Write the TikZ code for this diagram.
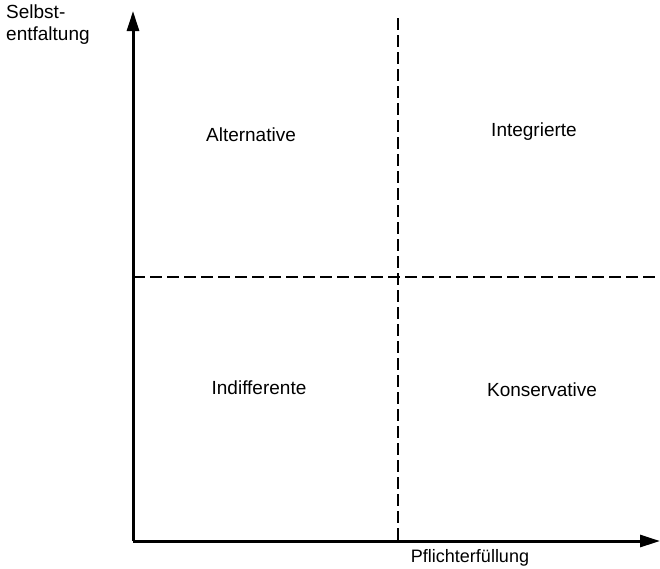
\documentclass[tikz,border=0pt]{standalone}
\usepackage{fontspec}
\setmainfont{Liberation Sans}
\usetikzlibrary{arrows.meta}
\begin{document}
\begin{tikzpicture}[x=1pt,y=-1pt,
  lbl/.style={font=\fontsize{19}{22}\selectfont, inner sep=0pt},
  axis/.style={line width=3pt, -{Triangle[length=20pt,width=12pt]}},
  divider/.style={line width=1.6pt, dash pattern=on 12pt off 5pt}]
\useasboundingbox (0,0) rectangle (660,568);
\coordinate (O) at (133,541);
\coordinate (ytip) at (133,11);
\coordinate (xtip) at (660,541);
\coordinate (vtop) at (398,18);
\coordinate (vbot) at (398,541);
\coordinate (hl) at (133,277);
\coordinate (hr) at (656,277);
\draw[divider] (vtop) -- (vbot);
\draw[divider] (hl) -- (hr);
\draw[axis] (O) -- (ytip);
\draw[axis] (O) -- (xtip);
\node[lbl, align=left, anchor=north west] (ylab) at (6,5) {Selbst-\\entfaltung};
\node[lbl, font=\fontsize{18}{22}\selectfont] (xlab) at (470,558) {Pflichterfüllung};
\node[lbl] (alt) at (251,135) {Alternative};
\node[lbl] (int) at (534,132) {Integrierte};
\node[lbl] (ind) at (259,388) {Indifferente};
\node[lbl] (kon) at (542,390) {Konservative};
\end{tikzpicture}
\end{document}
